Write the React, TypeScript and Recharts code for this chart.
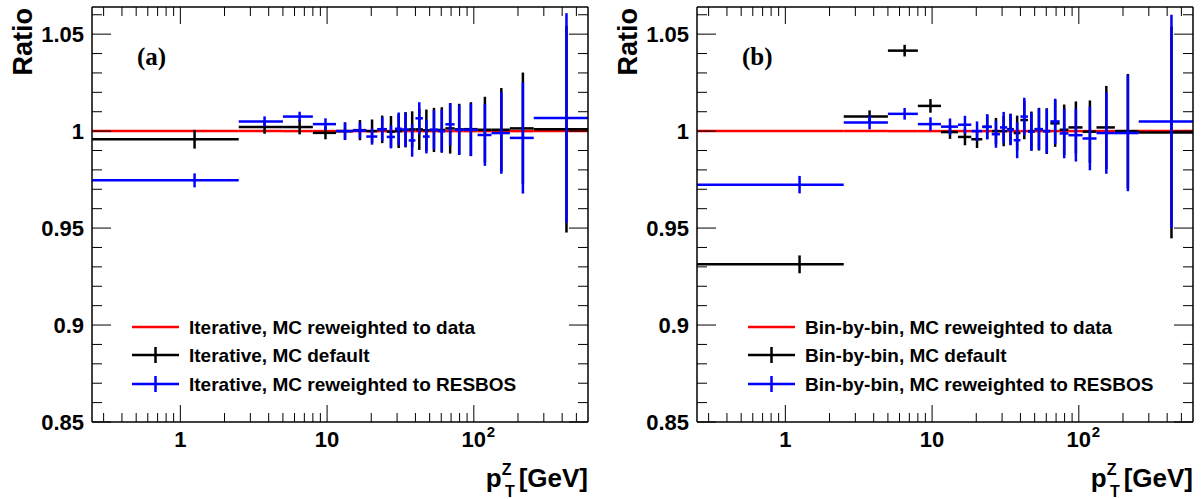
import { ScatterChart, Scatter, ErrorBar, XAxis, YAxis } from 'recharts'

// bin edges in pT^Z [GeV]
const binEdges = [0, 2.5, 5, 8, 11.5, 15, 18.5, 22, 25.5, 29, 32.5, 36, 40, 45, 50, 57, 64, 74, 85, 106, 132, 176, 256, 600]

// ratio of the reweighted-to-data unfolding to itself
const reweightedToData = [1, 1, 1, 1, 1, 1, 1, 1, 1, 1, 1, 1, 1, 1, 1, 1, 1, 1, 1, 1, 1, 1, 1]

const iterativeDefault = [0.9958, 1.0021, 1.0021, 0.9991, 1.0, 1.0005, 1.0, 1.0009, 0.9997, 1.0, 1.0007, 1.0009, 1.0009, 1.0004, 1.0006, 1.0006, 1.0014, 1.0009, 1.001, 1.0007, 1.0007, 1.0014, 1.001]
const iterativeDefaultErr = [0.0048, 0.0035, 0.0038, 0.0033, 0.0045, 0.0052, 0.006, 0.0071, 0.0081, 0.0087, 0.0091, 0.0093, 0.0106, 0.0107, 0.0114, 0.0117, 0.013, 0.0132, 0.0139, 0.017, 0.0215, 0.0288, 0.0533]
const iterativeResbos = [0.9746, 1.005, 1.0075, 1.0036, 1.0, 1.0003, 0.9972, 1.001, 0.997, 1.0012, 1.0007, 0.9952, 1.0066, 0.9972, 1.0007, 1.0, 1.0035, 1.0007, 1.0007, 0.998, 0.999, 0.9965, 1.0068]
const iterativeResbosErr = [0.0036, 0.0026, 0.0025, 0.003, 0.0045, 0.0041, 0.0042, 0.0061, 0.0059, 0.0084, 0.0088, 0.0084, 0.0083, 0.0087, 0.0101, 0.011, 0.011, 0.0128, 0.0135, 0.0159, 0.021, 0.0287, 0.054]

const binByBinDefault = [0.9313, 1.0075, 1.0415, 1.013, 0.9995, 0.997, 0.9958, 1.0022, 1.0, 1.0, 1.001, 0.999, 1.0057, 1.0, 1.001, 1.0, 1.004, 1.0007, 1.0019, 0.9997, 1.0019, 1.0, 0.9993]
const binByBinDefaultErr = [0.0046, 0.0032, 0.003, 0.0035, 0.0035, 0.0043, 0.0045, 0.0063, 0.0068, 0.0078, 0.008, 0.009, 0.0099, 0.0101, 0.011, 0.0118, 0.0121, 0.013, 0.0134, 0.0161, 0.0214, 0.0295, 0.0546]
const binByBinResbos = [0.9724, 1.0045, 1.0089, 1.0036, 1.0023, 1.0033, 1.0, 1.0022, 0.9984, 1.0019, 1.0007, 0.9953, 1.0075, 0.9997, 1.001, 1.0, 1.005, 0.9988, 0.9979, 0.9962, 0.999, 0.999, 1.005]
const binByBinResbosErr = [0.0045, 0.0036, 0.003, 0.0035, 0.0042, 0.0046, 0.005, 0.0065, 0.007, 0.008, 0.008, 0.0093, 0.0097, 0.0098, 0.0106, 0.0115, 0.0117, 0.0128, 0.0136, 0.0164, 0.021, 0.03, 0.055]

const xTicks = [0.3, 0.4, 0.5, 0.6, 0.7, 0.8, 0.9, 1, 2, 3, 4, 5, 6, 7, 8, 9, 10, 20, 30, 40, 50, 60, 70, 80, 90, 100, 200, 300, 400, 500]
const xMajor = [1, 10, 100]
const yTicks = [0.85, 0.86, 0.87, 0.88, 0.89, 0.9, 0.91, 0.92, 0.93, 0.94, 0.95, 0.96, 0.97, 0.98, 0.99, 1, 1.01, 1.02, 1.03, 1.04, 1.05, 1.06]
const yTickLabels: Record<string, string> = { '0.85': '0.85', '0.9': '0.9', '0.95': '0.95', '1': '1', '1.05': '1.05' }

const X_MIN = 0.25
const X_MAX = 600
const Y_DOMAIN: [number, number] = [0.85, 1.064]

const FONT = '"Liberation Sans", Arial, Helvetica, sans-serif'
const frame = { stroke: '#000', strokeWidth: 1.5 }

function toPoints(values: number[], errors: number[] | null) {
  return values.map((y, i) => {
    const lo = Math.max(binEdges[i], X_MIN)
    const hi = binEdges[i + 1]
    const x = (binEdges[i] + hi) / 2
    return { x, y, ex: [x - lo, hi - x], ey: errors ? errors[i] : 0 }
  })
}

const noMarker = () => <g />

const BottomTick = (props: any) => {
  const { x, y, payload } = props
  const v = payload.value
  const major = xMajor.includes(v)
  return (
    <g>
      <line x1={x} x2={x} y1={y} y2={y - (major ? 17 : 9)} stroke="#000" strokeWidth={1} />
      {major && v < 100 && (
        <text x={x} y={y + 25} textAnchor="middle" fontFamily={FONT} fontWeight="bold" fontSize={22} fill="#000">
          {String(v)}
        </text>
      )}
      {major && v === 100 && (
        <g>
          <text x={x} y={y + 25} textAnchor="middle" fontFamily={FONT} fontWeight="bold" fontSize={22} fill="#000">10</text>
          <text x={x + 13} y={y + 15} fontFamily={FONT} fontWeight="bold" fontSize={15} fill="#000">2</text>
        </g>
      )}
    </g>
  )
}

const TopTick = (props: any) => {
  const { x, y, payload } = props
  const major = xMajor.includes(payload.value)
  return <line x1={x} x2={x} y1={y} y2={y + (major ? 17 : 9)} stroke="#000" strokeWidth={1} />
}

const LeftTick = (props: any) => {
  const { x, y, payload } = props
  const label = yTickLabels[String(payload.value)]
  return (
    <g>
      <line x1={x} x2={x + (label ? 19 : 10)} y1={y} y2={y} stroke="#000" strokeWidth={1} />
      {label && (
        <text x={x - 8} y={y + 8} textAnchor="end" fontFamily={FONT} fontWeight="bold" fontSize={22} fill="#000">
          {label}
        </text>
      )}
    </g>
  )
}

const RightTick = (props: any) => {
  const { x, y, payload } = props
  const major = !!yTickLabels[String(payload.value)]
  return <line x1={x} x2={x - (major ? 19 : 10)} y1={y} y2={y} stroke="#000" strokeWidth={1} />
}

interface PanelProps {
  tag: string
  tagX: number
  prefix: string
  legendX: number
  defaults: number[]
  defaultErr: number[]
  resbos: number[]
  resbosErr: number[]
}

function Panel({ tag, tagX, prefix, legendX, defaults, defaultErr, resbos, resbosErr }: PanelProps) {
  const series = [
    { name: `${prefix}, MC reweighted to data`, color: '#ff0000', points: toPoints(reweightedToData, null), cross: false },
    { name: `${prefix}, MC default`, color: '#000000', points: toPoints(defaults, defaultErr), cross: true },
    { name: `${prefix}, MC reweighted to RESBOS`, color: '#0000ff', points: toPoints(resbos, resbosErr), cross: true },
  ]
  const legendRows = [327, 355, 384]

  return (
    <div style={{ position: 'relative', width: 600, height: 499 }}>
      <ScatterChart width={600} height={499} margin={{ top: 0, right: 0, bottom: 0, left: 0 }}>
        <XAxis
          xAxisId="b"
          orientation="bottom"
          type="number"
          dataKey="x"
          scale="log"
          domain={[X_MIN, X_MAX]}
          allowDataOverflow
          ticks={xTicks}
          interval={0}
          tick={<BottomTick />}
          tickLine={false}
          tickSize={0}
          tickMargin={0}
          axisLine={frame}
          height={77}
        />
        <XAxis
          xAxisId="t"
          orientation="top"
          type="number"
          dataKey="x"
          scale="log"
          domain={[X_MIN, X_MAX]}
          allowDataOverflow
          ticks={xTicks}
          interval={0}
          tick={<TopTick />}
          tickLine={false}
          tickSize={0}
          tickMargin={0}
          axisLine={frame}
          height={7}
        />
        <YAxis
          yAxisId="l"
          orientation="left"
          type="number"
          dataKey="y"
          domain={Y_DOMAIN}
          allowDataOverflow
          ticks={yTicks}
          interval={0}
          tick={<LeftTick />}
          tickLine={false}
          tickSize={0}
          tickMargin={0}
          axisLine={frame}
          width={92}
        />
        <YAxis
          yAxisId="r"
          orientation="right"
          type="number"
          dataKey="y"
          domain={Y_DOMAIN}
          allowDataOverflow
          ticks={yTicks}
          interval={0}
          tick={<RightTick />}
          tickLine={false}
          tickSize={0}
          tickMargin={0}
          axisLine={frame}
          width={12}
        />
        {series.map((s) => (
          <Scatter
            key={s.name}
            xAxisId="b"
            yAxisId="l"
            data={s.points}
            shape={noMarker}
            isAnimationActive={false}
          >
            <ErrorBar dataKey="ex" direction="x" width={0} stroke={s.color} strokeWidth={2.5} isAnimationActive={false} />
            {s.cross && (
              <ErrorBar dataKey="ey" direction="y" width={0} stroke={s.color} strokeWidth={2.5} isAnimationActive={false} />
            )}
          </Scatter>
        ))}
      </ScatterChart>
      <svg width={600} height={499} style={{ position: 'absolute', left: 0, top: 0, pointerEvents: 'none' }}>
        <text x={tagX} y={65} fontFamily='"Liberation Serif", "Times New Roman", serif' fontWeight="bold" fontSize={25} fill="#000">
          {tag}
        </text>
        <text transform="translate(32,8) rotate(-90)" textAnchor="end" fontFamily={FONT} fontWeight="bold" fontSize={27} fill="#000">
          Ratio
        </text>
        <text x={588} y={487} textAnchor="end" fontFamily={FONT} fontWeight="bold" fontSize={26} fill="#000">
          <tspan>p</tspan>
          <tspan fontSize={16} dy={-12}>Z</tspan>
          <tspan fontSize={26} dy={12}>{'\u00a0[GeV]'}</tspan>
        </text>
        <text x={505} y={497} fontFamily={FONT} fontWeight="bold" fontSize={16} fill="#000">T</text>
        {series.map((s, i) => (
          <g key={s.name}>
            <line x1={legendX} x2={legendX + 47} y1={legendRows[i]} y2={legendRows[i]} stroke={s.color} strokeWidth={2.5} />
            {s.cross && (
              <line x1={legendX + 23.5} x2={legendX + 23.5} y1={legendRows[i] - 8} y2={legendRows[i] + 8} stroke={s.color} strokeWidth={2.5} />
            )}
            <text x={legendX + 57} y={legendRows[i] + 7} fontFamily={FONT} fontWeight="bold" fontSize={19} fill="#000">
              {s.name}
            </text>
          </g>
        ))}
      </svg>
    </div>
  )
}

export default function App() {
  return (
    <div style={{ position: 'absolute', left: 0, top: 0, width: 1204, height: 499, background: '#fff' }}>
      <div style={{ position: 'absolute', left: 0, top: 0 }}>
        <Panel
          tag="(a)"
          tagX={137}
          prefix="Iterative"
          legendX={132}
          defaults={iterativeDefault}
          defaultErr={iterativeDefaultErr}
          resbos={iterativeResbos}
          resbosErr={iterativeResbosErr}
        />
      </div>
      <div style={{ position: 'absolute', left: 605, top: 0 }}>
        <Panel
          tag="(b)"
          tagX={137}
          prefix="Bin-by-bin"
          legendX={143}
          defaults={binByBinDefault}
          defaultErr={binByBinDefaultErr}
          resbos={binByBinResbos}
          resbosErr={binByBinResbosErr}
        />
      </div>
    </div>
  )
}
